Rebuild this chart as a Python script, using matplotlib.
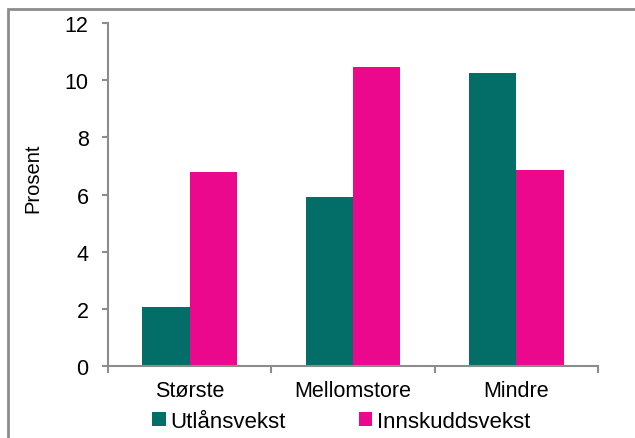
import matplotlib
matplotlib.use("Agg")
import matplotlib.pyplot as plt
import numpy as np
from matplotlib.patches import Rectangle

plt.rcParams['font.family'] = ['Liberation Sans', 'DejaVu Sans']

# vekst etter bankgruppe
kategorier = ["Største", "Mellomstore", "Mindre"]
utlansvekst = [2.05, 5.92, 10.25]
innskuddsvekst = [6.8, 10.45, 6.86]

TEAL = "#036e67"
PINK = "#ec088c"
GRAY = "#8c8c8c"

fig = plt.figure(figsize=(6.35, 4.39), dpi=100)
ax = fig.add_axes([0.170, 0.164, 0.772, 0.781])

# ramme rundt figuren
fig.patches.append(Rectangle((8 / 635, -0.1), 1.2, 1 - 10 / 439 + 0.1,
                             transform=fig.transFigure, fill=False,
                             edgecolor=GRAY, linewidth=2))

x = np.arange(len(kategorier))
w = 0.29
ax.bar(x - w / 2, utlansvekst, w, color=TEAL, label="Utlånsvekst")
ax.bar(x + w / 2, innskuddsvekst, w, color=PINK, label="Innskuddsvekst")

ax.set_xlim(-0.5, 2.5)
ax.set_ylim(0, 12)
ax.set_yticks(range(0, 13, 2))
ax.set_xticks(x)
ax.set_xticklabels(kategorier)
ax.set_xticks([-0.5, 0.5, 1.5, 2.5], minor=True)
ax.tick_params(axis='x', which='major', length=0, pad=10, labelsize=15.5)
ax.tick_params(axis='x', which='minor', length=5, color=GRAY, width=1.5)
ax.tick_params(axis='y', length=4, color=GRAY, width=1.5, pad=10, labelsize=15.5)

for s in ["top", "right"]:
    ax.spines[s].set_visible(False)
for s in ["left", "bottom"]:
    ax.spines[s].set_color(GRAY)
    ax.spines[s].set_linewidth(1.5)

ax.set_ylabel("Prosent", fontsize=14.5)
ax.yaxis.set_label_coords(-0.133, 0.55)

ax.legend(loc="upper center", bbox_to_anchor=(0.476, -0.105), ncol=2,
          frameon=False, fontsize=16, handlelength=0.6, handleheight=0.6,
          handletextpad=0.2, columnspacing=3.3, borderaxespad=0)

fig.savefig("out.png", dpi=100)
